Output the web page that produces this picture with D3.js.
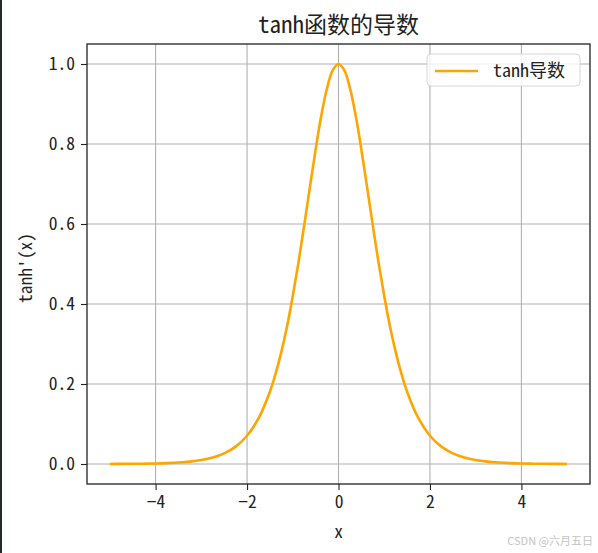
<!DOCTYPE html>
<html><head><meta charset="utf-8">
<script src="https://cdn.jsdelivr.net/npm/d3@7"></script>
<style>body{margin:0;background:#fff;} svg{display:block;}</style>
</head><body>
<svg id="c" width="598" height="553"></svg>
<script>
// Values
const xValues = [-5,-4.75,-4.5,-4.25,-4,-3.75,-3.5,-3.25,-3,-2.75,-2.5,-2.25,-2,-1.75,-1.5,-1.375,-1.25,-1.125,-1,-0.875,-0.75,-0.625,-0.5,-0.375,-0.25,-0.125,0,
  0.125,0.25,0.375,0.5,0.625,0.75,0.875,1,1.125,1.25,1.375,1.5,1.75,2,2.25,2.5,2.75,3,3.25,3.5,3.75,4,4.25,4.5,4.75,5];
const yValues = [0.00018,0.0003,0.00049,0.00081,0.00134,0.00221,0.00364,0.006,0.00987,0.0162,0.0266,0.0435,0.0707,0.1138,0.1807,0.2259,0.2804,0.3445,0.42,0.5041,0.5966,0.6924,0.7864,0.8716,0.94,0.9845,1.0,
  0.9845,0.94,0.8716,0.7864,0.6924,0.5966,0.5041,0.42,0.3445,0.2804,0.2259,0.1807,0.1138,0.0707,0.0435,0.0266,0.0162,0.00987,0.006,0.00364,0.00221,0.00134,0.00081,0.00049,0.0003,0.00018];
const xTicks = [-4,-2,0,2,4];
const yTicks = [0.0,0.2,0.4,0.6,0.8,1.0];
const title = "tanh函数的导数";
const xLabel = "x";
const yLabel = "tanh'(x)";
const seriesName = "tanh导数";

const font = "'Noto Sans Mono CJK SC', 'Noto Sans CJK SC', 'DejaVu Sans', sans-serif";
const svg = d3.select("#c");
const L = 87, R = 590, T = 44, B = 484;
const x = d3.scaleLinear().domain([-5.5, 5.5]).range([L, R]);
const y = d3.scaleLinear().domain([-0.05, 1.05]).range([B, T]);

// left dark stripe
svg.append("rect").attr("x",0).attr("y",0).attr("width",2).attr("height",553).attr("fill","#222a2a");

// grid
const g = svg.append("g");
g.selectAll(".gx").data(xTicks).join("line")
  .attr("x1", d=>x(d)).attr("x2", d=>x(d)).attr("y1", T).attr("y2", B)
  .attr("stroke","#b0b0b0").attr("stroke-width",1.1);
g.selectAll(".gy").data(yTicks).join("line")
  .attr("y1", d=>y(d)).attr("y2", d=>y(d)).attr("x1", L).attr("x2", R)
  .attr("stroke","#b0b0b0").attr("stroke-width",1.1);

// line
const pts = xValues.map((v,i)=>[v, yValues[i]]);
svg.append("path").datum(pts)
  .attr("d", d3.line().x(d=>x(d[0])).y(d=>y(d[1])).curve(d3.curveCatmullRom.alpha(0.5)))
  .attr("fill","none").attr("stroke","#ffa500").attr("stroke-width",2.6);

// axes
const xa = svg.append("g").attr("transform",`translate(0,${B})`)
  .call(d3.axisBottom(x).tickValues(xTicks).tickSize(6).tickPadding(6).tickFormat(d=> d<0 ? "\u2212"+Math.abs(d) : d));
const ya = svg.append("g").attr("transform",`translate(${L},0)`)
  .call(d3.axisLeft(y).tickValues(yTicks).tickSize(6).tickPadding(6).tickFormat(d3.format(".1f")));
[xa, ya].forEach(a=>{
  a.select(".domain").remove();
  a.selectAll("line").attr("stroke","#222").attr("stroke-width",1.1);
  a.selectAll("text").attr("fill","#222").style("font-family",font).style("font-size","17.5px");
});

// frame
svg.append("rect").attr("x",L).attr("y",T).attr("width",R-L).attr("height",B-T)
  .attr("fill","none").attr("stroke","#222").attr("stroke-width",1.3);

// title and labels
svg.append("text").attr("x",(L+R)/2).attr("y",33).attr("text-anchor","middle")
  .style("font-family",font).style("font-size","23px").attr("fill","#222").text(title);
svg.append("text").attr("x",(L+R)/2).attr("y",538).attr("text-anchor","middle")
  .style("font-family",font).style("font-size","17.5px").attr("fill","#222").text(xLabel);
svg.append("text").attr("transform",`translate(32,${(T+B)/2+4}) rotate(-90)`).attr("text-anchor","middle")
  .style("font-family",font).style("font-size","17.5px").attr("fill","#222").text(yLabel);

// legend
const lg = svg.append("g");
lg.append("rect").attr("x",427).attr("y",54).attr("width",153).attr("height",32).attr("rx",4)
  .attr("fill","#fff").attr("fill-opacity",0.8).attr("stroke","#d6d6d6").attr("stroke-width",1);
lg.append("line").attr("x1",435).attr("x2",478).attr("y1",71).attr("y2",71)
  .attr("stroke","#ffa500").attr("stroke-width",2.6);
lg.append("text").attr("x",493).attr("y",77).style("font-family",font).style("font-size","18px")
  .attr("fill","#222").text(seriesName);

// watermark
svg.append("text").attr("x",593).attr("y",545).attr("text-anchor","end")
  .style("font-family","'Noto Sans CJK SC', sans-serif").style("font-size","11px").attr("fill","#c4c4c4").text("CSDN @六月五日");
</script>
</body></html>
